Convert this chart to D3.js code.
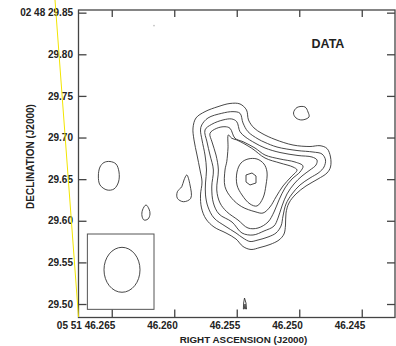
<!DOCTYPE html>
<html>
<head>
<meta charset="utf-8">
<script src="https://cdn.jsdelivr.net/npm/d3@7"></script>
<style>
  html, body { margin: 0; padding: 0; background: #fff; }
  svg { display: block; }
  text { font-family: "Liberation Sans", Arial, sans-serif; font-weight: bold; fill: #222; }
</style>
</head>
<body>
<div id="chart"></div>
<script>
// axis extents (RA seconds of 05 51, Dec arcsec of 02 48)
const RA_DOMAIN = [46.26766, 46.24234];
const DEC_DOMAIN = [29.8532, 29.4838];
const RA_TICKS = [46.265, 46.260, 46.255, 46.250, 46.245];
const DEC_TICKS = [29.50, 29.55, 29.60, 29.65, 29.70, 29.75, 29.80, 29.85];

// contours of the main source, outermost first, [ra, dec]
const LEVEL_1 = [
  [46.25850, 29.7115], [46.25826, 29.7235], [46.25754, 29.7311], [46.25650, 29.7371],
  [46.25554, 29.7409], [46.25474, 29.7403], [46.25422, 29.7331], [46.25406, 29.7211],
  [46.25362, 29.7115], [46.25298, 29.7049], [46.25194, 29.6977], [46.25050, 29.6910],
  [46.24914, 29.6892], [46.24834, 29.6902], [46.24778, 29.6868], [46.24750, 29.6766],
  [46.24750, 29.6646], [46.24778, 29.6574], [46.24850, 29.6502], [46.24946, 29.6418],
  [46.25026, 29.6322], [46.25082, 29.6214], [46.25106, 29.6093], [46.25110, 29.5949],
  [46.25122, 29.5841], [46.25162, 29.5769], [46.25234, 29.5715], [46.25314, 29.5679],
  [46.25386, 29.5655], [46.25450, 29.5691], [46.25506, 29.5781], [46.25586, 29.5853],
  [46.25682, 29.5925], [46.25746, 29.6021], [46.25782, 29.6154], [46.25790, 29.6310],
  [46.25778, 29.6466], [46.25794, 29.6610], [46.25818, 29.6790], [46.25842, 29.6971]
];
const LEVEL_2 = [
  [46.25780, 29.7151], [46.25730, 29.7235], [46.25620, 29.7291], [46.25530, 29.7311],
  [46.25474, 29.7291], [46.25450, 29.7175], [46.25410, 29.7070], [46.25330, 29.6983],
  [46.25274, 29.6941], [46.25178, 29.6886], [46.25018, 29.6844], [46.24890, 29.6826],
  [46.24818, 29.6802], [46.24790, 29.6730], [46.24802, 29.6646], [46.24842, 29.6580],
  [46.24914, 29.6514], [46.24994, 29.6430], [46.25058, 29.6322], [46.25106, 29.6202],
  [46.25130, 29.6057], [46.25146, 29.5937], [46.25186, 29.5853], [46.25250, 29.5805],
  [46.25330, 29.5769], [46.25394, 29.5751], [46.25450, 29.5793], [46.25506, 29.5853],
  [46.25594, 29.5937], [46.25682, 29.6033], [46.25730, 29.6166], [46.25750, 29.6310],
  [46.25750, 29.6454], [46.25742, 29.6610], [46.25754, 29.6790], [46.25778, 29.6971],
  [46.25790, 29.7091]
];
const LEVEL_3 = [
  [46.25754, 29.7091], [46.25700, 29.7159], [46.25610, 29.7211], [46.25540, 29.7223],
  [46.25500, 29.7190], [46.25474, 29.7070], [46.25434, 29.7010], [46.25354, 29.6934],
  [46.25274, 29.6874], [46.25154, 29.6820], [46.25010, 29.6784], [46.24898, 29.6766],
  [46.24858, 29.6730], [46.24866, 29.6670], [46.24914, 29.6610], [46.24978, 29.6538],
  [46.25042, 29.6442], [46.25098, 29.6322], [46.25138, 29.6178], [46.25170, 29.6033],
  [46.25202, 29.5937], [46.25282, 29.5877], [46.25370, 29.5829], [46.25458, 29.5853],
  [46.25538, 29.5985], [46.25642, 29.6081], [46.25687, 29.6214], [46.25700, 29.6406],
  [46.25687, 29.6610], [46.25714, 29.6790], [46.25738, 29.6947]
];
const LEVEL_4 = [
  [46.25714, 29.7051], [46.25660, 29.7111], [46.25594, 29.7130], [46.25554, 29.7111],
  [46.25514, 29.6991], [46.25450, 29.6950], [46.25354, 29.6874], [46.25274, 29.6790],
  [46.25154, 29.6742], [46.25034, 29.6706], [46.24970, 29.6658], [46.24994, 29.6586],
  [46.25058, 29.6502], [46.25114, 29.6394], [46.25162, 29.6250], [46.25202, 29.6105],
  [46.25250, 29.5985], [46.25330, 29.5913], [46.25410, 29.5913], [46.25490, 29.6009],
  [46.25580, 29.6109], [46.25634, 29.6214], [46.25660, 29.6370], [46.25647, 29.6610],
  [46.25666, 29.6790], [46.25698, 29.6947]
];
const LEVEL_5 = [
  [46.25567, 29.7031], [46.25540, 29.6991], [46.25500, 29.6971], [46.25380, 29.6871],
  [46.25274, 29.6754], [46.25154, 29.6694], [46.25050, 29.6646], [46.25018, 29.6610],
  [46.25066, 29.6526], [46.25130, 29.6418], [46.25186, 29.6286], [46.25234, 29.6166],
  [46.25290, 29.6093], [46.25354, 29.6109], [46.25460, 29.6169], [46.25540, 29.6270],
  [46.25594, 29.6409], [46.25594, 29.6610], [46.25580, 29.6710], [46.25570, 29.6874]
];
const LEVEL_6 = [
  [46.25498, 29.6586], [46.25466, 29.6694], [46.25410, 29.6742], [46.25338, 29.6742],
  [46.25282, 29.6682], [46.25258, 29.6586], [46.25266, 29.6430], [46.25290, 29.6274],
  [46.25338, 29.6178], [46.25394, 29.6202], [46.25458, 29.6310], [46.25498, 29.6430]
];
const PEAK = [
  [46.25426, 29.6550], [46.25378, 29.6574], [46.25346, 29.6538],
  [46.25346, 29.6454], [46.25394, 29.6430], [46.25426, 29.6466]
];

// isolated lowest-level islands
const WEST_OVAL = [
  [46.26514, 29.6712], [46.26466, 29.6682], [46.26442, 29.6586], [46.26446, 29.6466],
  [46.26482, 29.6382], [46.26538, 29.6370], [46.26594, 29.6430], [46.26607, 29.6538],
  [46.26594, 29.6646], [46.26562, 29.6700]
];
const SMALL_DROP = [
  [46.26226, 29.6190], [46.26202, 29.6141], [46.26194, 29.6081], [46.26210, 29.6021],
  [46.26242, 29.6009], [46.26258, 29.6057], [46.26254, 29.6129]
];
const SIDE_BLOB = [
  [46.25900, 29.6550], [46.25874, 29.6430], [46.25868, 29.6270], [46.25927, 29.6229],
  [46.25975, 29.6270], [46.25975, 29.6349], [46.25940, 29.6409], [46.25922, 29.6490]
];
const NE_BLOB = [
  [46.25018, 29.7361], [46.24954, 29.7367], [46.24930, 29.7307], [46.24922, 29.7247],
  [46.24978, 29.7211], [46.25026, 29.7235], [46.25046, 29.7295]
];
const SOUTH_SLIVER = [
  [46.25438, 29.5072], [46.25426, 29.5012], [46.25422, 29.4940], [46.25429, 29.4940],
  [46.25434, 29.5000], [46.25440, 29.4940], [46.25447, 29.4940], [46.25445, 29.5012]
];
const SPECKS = [[46.26162, 29.8344]];

// beam: box corners and ellipse centre / semi-axes
const BEAM_BOX = [[46.26695, 29.5841], [46.26162, 29.4936]];
const BEAM_CENTRE = [46.26418, 29.5411];
const BEAM_RADII = [0.00144, 0.0270];

// stray yellow scan mark on the original page
const YELLOW_STROKE = [[46.26954, 29.8653], [46.26766, 29.4844]];

const W = 396, H = 346;
const LEFT = 78.5, RIGHT = 395, TOP = 10, BOTTOM = 317.5;

const svg = d3.select('#chart')
  .append('svg')
    .attr('width', W)
    .attr('height', H);

const x = d3.scaleLinear().domain(RA_DOMAIN).range([LEFT, RIGHT]);
const y = d3.scaleLinear().domain(DEC_DOMAIN).range([TOP, BOTTOM]);

// frame
svg.append('rect')
  .attr('x', LEFT).attr('y', TOP)
  .attr('width', RIGHT - LEFT).attr('height', BOTTOM - TOP)
  .attr('fill', 'none')
  .attr('stroke', '#444')
  .attr('stroke-width', 1.3);

function styleAxis(g) {
  g.select('.domain').remove();
  g.selectAll('.tick line').attr('stroke', '#444').attr('stroke-width', 1.3);
  g.selectAll('.tick text')
    .attr('font-family', '"Liberation Sans", Arial, sans-serif')
    .attr('font-weight', 'bold')
    .attr('font-size', 10)
    .attr('fill', '#222');
}

svg.append('g')
  .attr('transform', `translate(0,${BOTTOM})`)
  .call(d3.axisBottom(x)
    .tickValues(RA_TICKS)
    .tickSizeInner(-8).tickSizeOuter(0)
    .tickPadding(4.4)
    .tickFormat((d, i) => (i === 0 ? '05 51 ' : '') + d.toFixed(3)))
  .call(styleAxis)
  .call(g => g.selectAll('.tick text').attr('text-anchor', 'end').attr('x', 3));

svg.append('g')
  .attr('transform', `translate(0,${TOP})`)
  .call(d3.axisTop(x).tickValues(RA_TICKS).tickSizeInner(-7).tickSizeOuter(0).tickFormat(''))
  .call(styleAxis);

svg.append('g')
  .attr('transform', `translate(${LEFT},0)`)
  .call(d3.axisLeft(y)
    .tickValues(DEC_TICKS)
    .tickSizeInner(-8).tickSizeOuter(0)
    .tickPadding(5.5)
    .tickFormat(d => (d === 29.85 ? '02 48 ' : '') + d.toFixed(2)))
  .call(styleAxis);

svg.append('g')
  .attr('transform', `translate(${RIGHT},0)`)
  .call(d3.axisRight(y).tickValues(DEC_TICKS).tickSizeInner(-8).tickSizeOuter(0).tickFormat(''))
  .call(styleAxis);

// axis titles
svg.append('text')
  .attr('x', 243.5).attr('y', 343)
  .attr('text-anchor', 'middle')
  .attr('font-size', 9.8)
  .text('RIGHT ASCENSION (J2000)');

svg.append('text')
  .attr('transform', 'translate(34,156.5) rotate(-90)')
  .attr('text-anchor', 'middle')
  .attr('font-size', 10)
  .text('DECLINATION (J2000)');

svg.append('text')
  .attr('x', 311.5).attr('y', 48.3)
  .attr('font-size', 12.5)
  .text('DATA');

// contours
const smooth = d3.line()
  .x(d => x(d[0])).y(d => y(d[1]))
  .curve(d3.curveCatmullRomClosed.alpha(0.5));
const sharp = d3.line()
  .x(d => x(d[0])).y(d => y(d[1]))
  .curve(d3.curveLinearClosed);

const smoothRings = [LEVEL_1, LEVEL_2, LEVEL_3, LEVEL_4, LEVEL_5, LEVEL_6,
                     WEST_OVAL, SMALL_DROP, SIDE_BLOB, NE_BLOB];
const sharpRings = [PEAK, SOUTH_SLIVER];

const cg = svg.append('g')
  .attr('fill', 'none')
  .attr('stroke', '#333')
  .attr('stroke-width', 0.9)
  .attr('stroke-linejoin', 'round');

cg.selectAll('path.smooth')
  .data(smoothRings)
  .join('path')
    .attr('class', 'smooth')
    .attr('d', smooth);

cg.selectAll('path.sharp')
  .data(sharpRings)
  .join('path')
    .attr('class', 'sharp')
    .attr('d', d => sharp(d));

svg.selectAll('circle.speck')
  .data(SPECKS)
  .join('circle')
    .attr('class', 'speck')
    .attr('cx', d => x(d[0])).attr('cy', d => y(d[1]))
    .attr('r', 0.8)
    .attr('fill', '#bbb');

// beam inset
svg.append('rect')
  .attr('x', x(BEAM_BOX[0][0])).attr('y', y(BEAM_BOX[0][1]))
  .attr('width', x(BEAM_BOX[1][0]) - x(BEAM_BOX[0][0]))
  .attr('height', y(BEAM_BOX[1][1]) - y(BEAM_BOX[0][1]))
  .attr('fill', 'none')
  .attr('stroke', '#555')
  .attr('stroke-width', 1);

svg.append('ellipse')
  .attr('cx', x(BEAM_CENTRE[0])).attr('cy', y(BEAM_CENTRE[1]))
  .attr('rx', Math.abs(x(BEAM_CENTRE[0] + BEAM_RADII[0]) - x(BEAM_CENTRE[0])))
  .attr('ry', Math.abs(y(BEAM_CENTRE[1] + BEAM_RADII[1]) - y(BEAM_CENTRE[1])))
  .attr('fill', 'none')
  .attr('stroke', '#333')
  .attr('stroke-width', 0.9);

// yellow stroke over everything
svg.append('line')
  .attr('x1', x(YELLOW_STROKE[0][0])).attr('y1', y(YELLOW_STROKE[0][1]))
  .attr('x2', x(YELLOW_STROKE[1][0])).attr('y2', y(YELLOW_STROKE[1][1]))
  .attr('stroke', '#f2e500')
  .attr('stroke-width', 1);
</script>
</body>
</html>
